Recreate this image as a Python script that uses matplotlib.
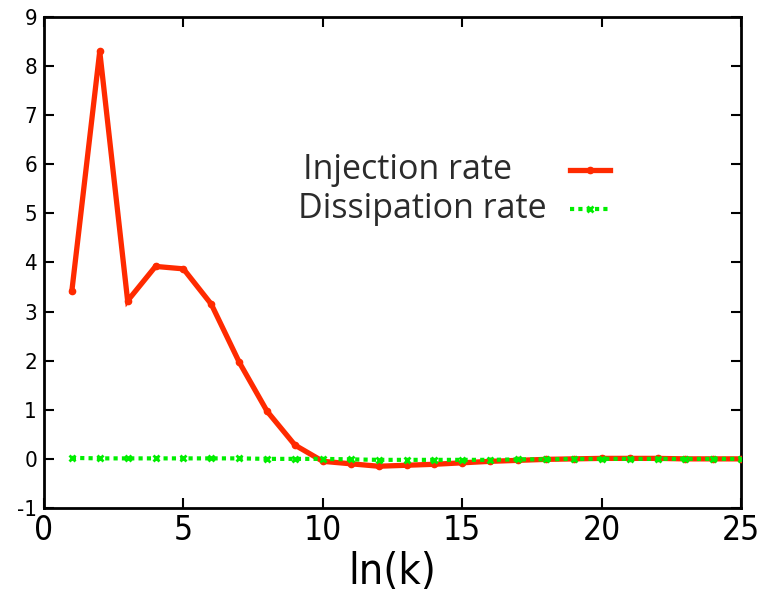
import matplotlib
matplotlib.use("Agg")
import matplotlib.pyplot as plt
from matplotlib.lines import Line2D

k = list(range(1, 26))
injection = [3.42, 8.30, 3.22, 3.92, 3.87, 3.15, 1.97, 0.97, 0.28, -0.05,
             -0.10, -0.15, -0.13, -0.11, -0.08, -0.05, -0.03, -0.01, 0.0, 0.01,
             0.01, 0.01, 0.0, 0.0, 0.0]
dissipation = [0.02, 0.01, 0.01, 0.01, 0.01, 0.01, 0.01, 0.0, 0.0, 0.0,
               -0.01, -0.02, -0.02, -0.02, -0.02, -0.02, -0.01, -0.01, 0.0, 0.0,
               0.0, 0.0, 0.0, 0.0, 0.0]
xticks = [0, 5, 10, 15, 20, 25]
yticks = [-1, 0, 1, 2, 3, 4, 5, 6, 7, 8, 9]
labels = ["Injection rate", "Dissipation rate"]

RED = "#ff2a00"
GREEN = "#00ee00"

fig = plt.figure(figsize=(7.62, 5.96), dpi=100)
ax = fig.add_axes([0.0577, 0.1477, 0.915, 0.8238])

ax.plot(k, injection, color=RED, lw=3.8, marker="o", ms=4.5,
        solid_joinstyle="miter", zorder=3)
ax.plot(k, dissipation, color=GREEN, lw=3.0, ls=(0, (1, 1)), marker="x",
        ms=5, mew=2, zorder=4)

ax.set_xlim(0, 25)
ax.set_ylim(-1, 9)
ax.set_xticks(xticks)
ax.set_yticks(yticks)
tickfont = ["DejaVu Sans"]
ax.set_xticklabels([str(t) for t in xticks], fontsize=24, family=tickfont,
                   fontstretch="condensed")
ax.set_yticklabels([str(t) for t in yticks], fontsize=16, family=tickfont,
                   fontstretch="condensed")
ax.tick_params(direction="in", length=7, width=1.5, top=True, right=True)
ax.tick_params(axis="x", pad=4)
ax.tick_params(axis="y", pad=5)
for s in ax.spines.values():
    s.set_linewidth(2)
ax.set_xlabel("ln(k)", fontsize=31, family=tickfont, fontstretch="condensed",
              labelpad=3)

# legend drawn manually
lfont = ["Open Sans", "DejaVu Sans"]
ax.text(0.372, 0.688, labels[0], transform=ax.transAxes, fontsize=24.5,
        family=lfont, color="#2b2b2b", va="center", ha="left")
ax.text(0.365, 0.609, labels[1], transform=ax.transAxes, fontsize=24.5,
        family=lfont, color="#2b2b2b", va="center", ha="left")
ax.add_line(Line2D([0.754, 0.812], [0.688, 0.688], transform=ax.transAxes,
                   color=RED, lw=3.8))
ax.add_line(Line2D([0.783], [0.688], transform=ax.transAxes, color=RED,
                   marker="o", ms=4.5))
ax.add_line(Line2D([0.754, 0.812], [0.609, 0.609], transform=ax.transAxes,
                   color=GREEN, lw=3.0, ls=(0, (1, 1))))
ax.add_line(Line2D([0.783], [0.609], transform=ax.transAxes, color=GREEN,
                   marker="x", ms=5, mew=2))

fig.savefig("out.png", dpi=100)
